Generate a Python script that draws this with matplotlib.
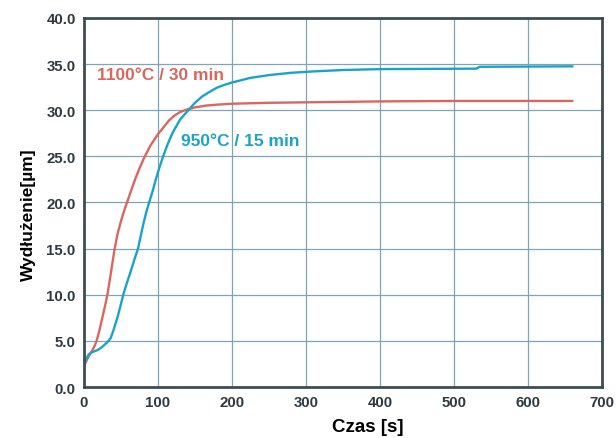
import matplotlib
matplotlib.use("Agg")
import matplotlib.pyplot as plt

plt.rcParams["font.family"] = ["Liberation Sans", "DejaVu Sans"]
plt.rcParams["font.weight"] = "bold"

# 1100°C / 30 min
t_red = [0, 3, 6, 10, 14, 17, 21, 25, 29, 32, 36, 41, 45, 50, 55, 59, 65, 70, 75,
         81, 90, 100, 108, 115, 122, 130, 140, 150, 165, 180, 200, 250, 300, 400,
         500, 660]
v_red = [2.3, 2.8, 3.3, 3.8, 4.4, 5.0, 6.2, 7.6, 9.0, 10.2, 12.2, 14.8, 16.5, 18.0,
         19.3, 20.2, 21.6, 22.7, 23.7, 24.8, 26.2, 27.4, 28.2, 28.9, 29.4, 29.8,
         30.1, 30.3, 30.5, 30.6, 30.7, 30.8, 30.85, 30.95, 31.0, 31.0]

# 950°C / 15 min
t_blue = [0, 2, 4, 6, 9, 13, 18, 23, 28, 32, 36, 40, 45, 49, 53, 58, 63, 68, 73,
          77, 80, 84, 88, 93, 97, 102, 107, 113, 120, 130, 141, 150, 160, 170, 180,
          190, 200, 225, 250, 280, 310, 350, 400, 530, 535, 660]
v_blue = [2.4, 2.8, 3.2, 3.5, 3.7, 3.85, 4.0, 4.25, 4.6, 4.9, 5.3, 6.2, 7.5, 8.7,
          10.0, 11.3, 12.5, 13.8, 15.0, 16.5, 17.6, 18.9, 20.0, 21.3, 22.5, 23.8,
          25.0, 26.3, 27.6, 29.0, 30.0, 30.8, 31.5, 32.0, 32.45, 32.75, 33.0, 33.5,
          33.8, 34.05, 34.2, 34.35, 34.45, 34.5, 34.7, 34.75]

red = "#d9675f"
blue = "#1aa3c8"
ink = "#2f3a40"

fig = plt.figure(figsize=(6.16, 4.39), dpi=100)
ax = fig.add_axes([0.1364, 0.116, 0.8406, 0.841])

ax.plot(t_red, v_red, color=red, lw=1.7)
ax.plot(t_blue, v_blue, color=blue, lw=1.7)

ax.set_xlim(0, 700)
ax.set_ylim(0, 40)
ax.set_xticks(range(0, 701, 100))
ax.set_yticks(range(0, 41, 5))
ax.set_yticklabels([f"{v:.1f}" for v in range(0, 41, 5)])
ax.grid(True, color="#7fa3b8", lw=0.9)
ax.set_axisbelow(True)
for s in ax.spines.values():
    s.set_color("#3d4d55")
    s.set_linewidth(2)
ax.tick_params(length=0, pad=6, labelsize=10.8, labelcolor=ink)
for lbl in ax.get_xticklabels() + ax.get_yticklabels():
    lbl.set_fontweight("bold")

ax.set_xlabel("Czas [s]", fontsize=13.5, fontweight="bold", color="black")
ax.set_ylabel("Wydłużenie[µm]", fontsize=12.5, fontweight="bold", color="black")
ax.xaxis.set_label_coords(0.548, -0.085)
ax.yaxis.set_label_coords(-0.092, 0.47)

ax.text(18, 33.9, "1100°C / 30 min", color=red, fontsize=12.5, fontweight="bold", va="center")
ax.text(131, 26.7, "950°C / 15 min", color=blue, fontsize=12.5, fontweight="bold", va="center")

fig.savefig("out.png", dpi=100)
